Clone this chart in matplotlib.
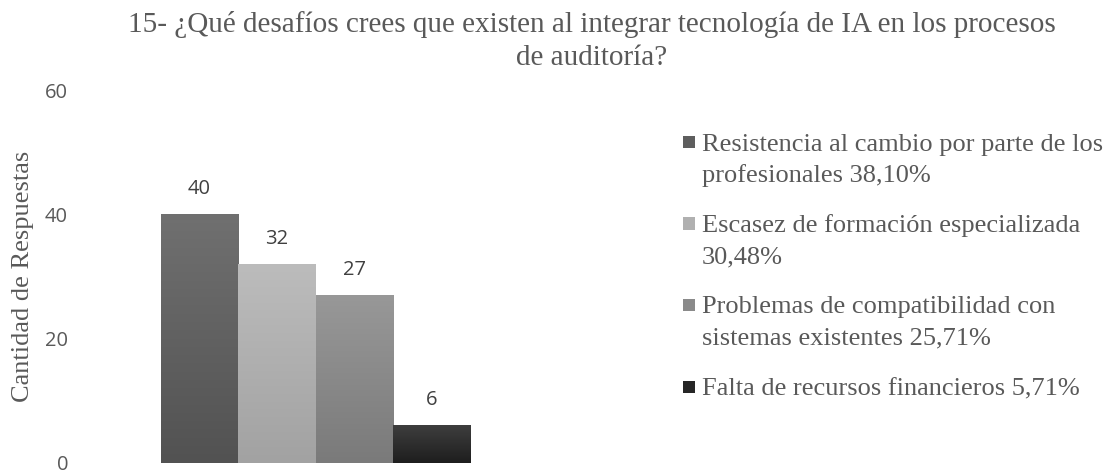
import matplotlib
matplotlib.use("Agg")
import matplotlib.pyplot as plt
import numpy as np
from matplotlib.patches import Rectangle
from matplotlib.colors import LinearSegmentedColormap

title = "15- ¿Qué desafíos crees que existen al integrar tecnología de IA en los procesos\nde auditoría?"
categories = [
    "Resistencia al cambio por parte de los\nprofesionales 38,10%",
    "Escasez de formación especializada\n30,48%",
    "Problemas de compatibilidad con\nsistemas existentes 25,71%",
    "Falta de recursos financieros 5,71%",
]
values = [40, 32, 27, 6]
yticks = [0, 20, 40, 60]
ylabel = "Cantidad de Respuestas"

top_colors = ["#707070", "#bcbcbc", "#989898", "#3e3e3e"]
bottom_colors = ["#525252", "#a2a2a2", "#7a7a7a", "#1e1e1e"]
legend_colors = ["#5e5e5e", "#b0b0b0", "#8a8a8a", "#262626"]

W, H = 1111, 470
fig = plt.figure(figsize=(W / 100, H / 100), dpi=100)

def fx(px):
    return px / W

def fy(py):
    return 1 - py / H

ax_left, ax_right, ax_top, ax_bottom = 80, 551, 90, 462.5
ax = fig.add_axes([fx(ax_left), fy(ax_bottom), fx(ax_right - ax_left), (ax_bottom - ax_top) / H])

n = len(values)
offsets = np.arange(n) - (n - 1) / 2
bars = ax.bar(offsets, values, width=1.0, color=legend_colors, zorder=2)
for b, tc, bc in zip(bars, top_colors, bottom_colors):
    x, w, h = b.get_x(), b.get_width(), b.get_height()
    cmap = LinearSegmentedColormap.from_list("g", [bc, tc])
    grad = np.linspace(0, 1, 256).reshape(-1, 1)
    im = ax.imshow(grad, cmap=cmap, aspect="auto", extent=[x, x + w, 0, h],
                   origin="lower", zorder=3)
    im.set_clip_path(b)

for b, v in zip(bars, values):
    ax.annotate(str(v), (b.get_x() + b.get_width() / 2, v), xytext=(0, 25),
                textcoords="offset pixels", ha="center", va="center",
                fontsize=14.5, color="#404040", family="Open Sans")

px_per_unit = (470 - 161) / 4
half = (ax_right - ax_left) / 2 / px_per_unit
center_shift = ((ax_left + ax_right) / 2 - 315.5) / px_per_unit
ax.set_xlim(-half - center_shift, half - center_shift)
ax.set_ylim(0, 60)
ax.set_yticks(yticks)
ax.set_yticklabels([str(t) for t in yticks], fontsize=14.5, color="#595959", family="Open Sans")
ax.tick_params(axis="y", length=0, pad=(ax_left - 68) * 0.72)
ax.set_xticks([])
for s in ax.spines.values():
    s.set_visible(False)

fig.text(fx(23), fy(276), ylabel, rotation=90, ha="center", va="center",
         fontsize=19, color="#595959", family="Liberation Serif")

# title: first line starts at left, second line centred under it
title_lines = title.split("\n")
t1 = fig.text(fx(128), fy(25), title_lines[0], ha="left", va="center",
              fontsize=21, color="#595959", family="Liberation Serif")
fig.canvas.draw()
bb = t1.get_window_extent(renderer=fig.canvas.get_renderer())
cx = (bb.x0 + bb.x1) / 2 / W
fig.text(cx, fy(25 + 33), title_lines[1], ha="center", va="center",
         fontsize=21, color="#595959", family="Liberation Serif")

# legend, drawn line by line
leg_first = [142, 223.5, 305, 386.5]
line_step = 31
for cat, col, y0 in zip(categories, legend_colors, leg_first):
    fig.add_artist(Rectangle((fx(683), fy(y0 + 6)), fx(12), 12 / H,
                             facecolor=col, edgecolor="none", transform=fig.transFigure))
    for k, line in enumerate(cat.split("\n")):
        fig.text(fx(702), fy(y0 + k * line_step), line, ha="left", va="center_baseline",
                 fontsize=19, color="#595959", family="Liberation Serif")

fig.savefig("out.png", dpi=100)
